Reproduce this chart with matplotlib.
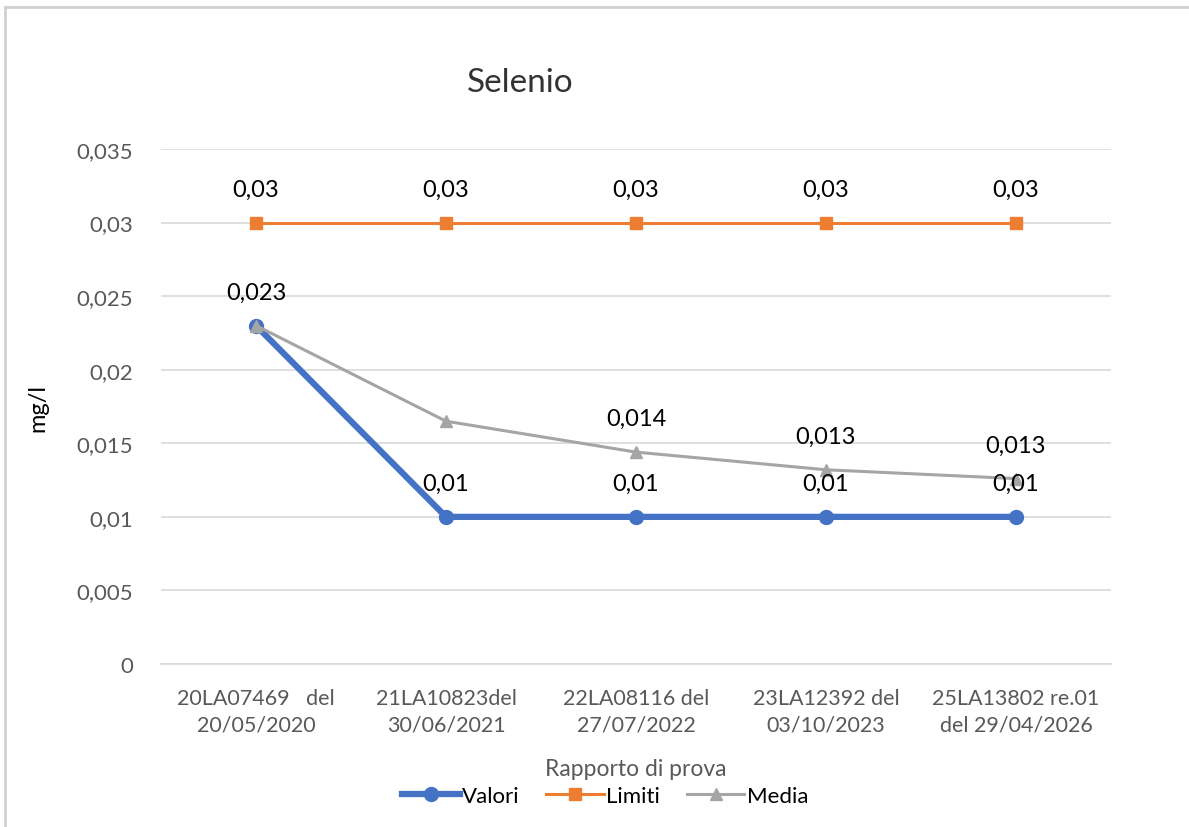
import matplotlib.pyplot as plt
from matplotlib.lines import Line2D
from matplotlib.ticker import FuncFormatter

# data
rapporti = ['20LA07469   del\n20/05/2020', '21LA10823del\n30/06/2021',
            '22LA08116 del\n27/07/2022', '23LA12392 del\n03/10/2023',
            '25LA13802 re.01\ndel 29/04/2026']
valori = [0.023, 0.01, 0.01, 0.01, 0.01]
limiti = [0.03, 0.03, 0.03, 0.03, 0.03]
media = [0.023, 0.0165, 0.0144, 0.0132, 0.0126]
# labels shown in the picture (None = no label)
valori_lbl = ['0,023', '0,01', '0,01', '0,01', '0,01']
limiti_lbl = ['0,03', '0,03', '0,03', '0,03', '0,03']
media_lbl = [None, None, '0,014', '0,013', '0,013']

plt.rcParams['font.family'] = ['Lato', 'DejaVu Sans']

BLUE = '#4472C4'
ORANGE = '#ED7D31'
GRAY = '#A5A5A5'
TXT = '#595959'

fig = plt.figure(figsize=(11.89, 8.28), dpi=100)
ax = fig.add_axes([161 / 1189, 1 - 665 / 828, 950 / 1189, 515 / 828])

x = list(range(len(rapporti)))
ax.plot(x, valori, color=BLUE, lw=4.5, marker='o', ms=10, zorder=3)
ax.plot(x, limiti, color=ORANGE, lw=2.2, marker='s', ms=8, zorder=3)
ax.plot(x, media, color=GRAY, lw=2.2, marker='^', ms=8, zorder=4)

# data labels above points
for series, labels in [(valori, valori_lbl), (limiti, limiti_lbl), (media, media_lbl)]:
    for xi, (v, t) in enumerate(zip(series, labels)):
        if t is None:
            continue
        ax.annotate(t, (xi, v), xytext=(0, 24), textcoords='offset points',
                    ha='center', va='center', fontsize=17, color='black', zorder=5)

ax.set_xlim(-0.5, len(rapporti) - 0.5)
ax.set_ylim(0, 0.035)
ax.set_yticks([i * 0.005 for i in range(8)])
ax.yaxis.set_major_formatter(FuncFormatter(
    lambda v, p: '0' if abs(v) < 1e-12 else ('%g' % round(v, 4)).replace('.', ',')))
ax.set_xticks(x)
ax.set_xticklabels(rapporti, fontsize=15.5, color=TXT, linespacing=1.45)
ax.tick_params(axis='y', labelsize=16, colors=TXT, length=0, pad=20)
ax.tick_params(axis='x', length=0, pad=17)

ax.grid(axis='y', color='#D9D9D9', lw=1.2)
ax.set_axisbelow(True)
for s in ['top', 'right', 'left']:
    ax.spines[s].set_visible(False)
ax.spines['bottom'].set_color('#D9D9D9')
ax.spines['bottom'].set_linewidth(1.2)

ax.set_ylabel('mg/l', fontsize=17, color='black', labelpad=20)
ax.set_xlabel('Rapporto di prova', fontsize=16.5, color=TXT, labelpad=17)
fig.text(520 / 1189, 1 - 83 / 828, 'Selenio', ha='center', va='center',
         fontsize=24, color='#333333')

handles = [Line2D([], [], color=BLUE, lw=4.5, marker='o', ms=10),
           Line2D([], [], color=ORANGE, lw=2.2, marker='s', ms=8),
           Line2D([], [], color=GRAY, lw=2.2, marker='^', ms=8)]
fig.legend(handles, ['Valori', 'Limiti', 'Media'], loc='center',
           bbox_to_anchor=(605 / 1189, 1 - 797 / 828), ncol=3, frameon=False,
           fontsize=16, handlelength=2.6, handletextpad=0.1, columnspacing=1.2)

# chart frame (only top and left edges visible in the picture)
fig.add_artist(Line2D([5 / 1189, 5 / 1189], [0, 1 - 8 / 828], color='#D0D0D0', lw=2,
                      transform=fig.transFigure))
fig.add_artist(Line2D([5 / 1189, 1], [1 - 8 / 828, 1 - 8 / 828], color='#D0D0D0', lw=2,
                      transform=fig.transFigure))

plt.savefig('out.png', dpi=100)
